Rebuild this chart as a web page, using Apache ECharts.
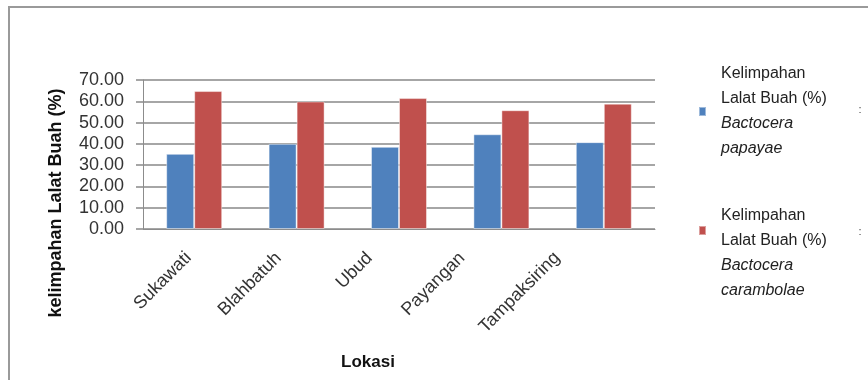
<!DOCTYPE html>
<html>
<head>
<meta charset="utf-8">
<title>Kelimpahan Lalat Buah</title>
<script src="https://cdn.jsdelivr.net/npm/echarts@6/dist/echarts.min.js"></script>
<style>
html,body{margin:0;padding:0;background:#fff;}
#chart{width:868px;height:380px;}
</style>
</head>
<body>
<div id="chart"></div>
<script>
// data
var lokasi = ['Sukawati', 'Blahbatuh', 'Ubud', 'Payangan', 'Tampaksiring'];
var papayae = [35.3, 40.0, 38.6, 44.5, 40.8];
var carambolae = [64.8, 59.9, 61.5, 55.8, 58.9];
var yTicks = [0, 10, 20, 30, 40, 50, 60, 70];

var nama1 = 'Kelimpahan Lalat Buah (%) Bactocera papayae';
var nama2 = 'Kelimpahan Lalat Buah (%) Bactocera carambolae';

var font = 'Liberation Sans';

// excel shifts the rotated labels a bit to the left, more for later categories
var geser = [6, 18, 29, 39, 47];
var labelRich = {};
lokasi.forEach(function (n, i) {
    var d = geser[i];
    labelRich['c' + i] = {
        fontFamily: font,
        fontSize: 18,
        color: '#333',
        padding: [0, Math.round(d * 0.707), Math.round(d * 1.414), 0]
    };
});

// legend text, species name in italic
var legendRich = {
    gap: { fontSize: 1, lineHeight: 45 },
    n: { fontFamily: font, fontSize: 16, color: '#222', lineHeight: 25, padding: [0, 0, 0, 10] },
    i: { fontFamily: font, fontSize: 16, fontStyle: 'italic', color: '#222', lineHeight: 25, padding: [0, 0, 0, 10] }
};
function legendText(name) {
    var s = '{n|Kelimpahan}\n{n|Lalat Buah (%)}\n{i|Bactocera}\n';
    if (name == nama1) return s + '{i|papayae}';
    // in the picture the red marker sits higher than the middle of its text
    return '{gap| }\n' + s + '{i|carambolae}';
}

var myChart = echarts.init(document.getElementById('chart'));

var option = {
    animation: false,
    color: ['#4F81BD', '#C0504D'],
    grid: {
        left: 143,
        right: 213,
        top: 80,
        bottom: 151
    },
    legend: [
        {
            orient: 'vertical',
            left: 693,
            top: 61,
            itemWidth: 7,
            itemHeight: 9,
            icon: 'rect',
            data: [nama1],
            formatter: legendText,
            textStyle: { rich: legendRich }
        },
        {
            orient: 'vertical',
            left: 693,
            top: 175,
            itemWidth: 7,
            itemHeight: 9,
            icon: 'rect',
            data: [nama2],
            formatter: legendText,
            textStyle: { rich: legendRich }
        }
    ],
    xAxis: {
        type: 'category',
        data: lokasi,
        axisLine: { lineStyle: { color: '#8c8c8c', width: 1 } },
        axisTick: { show: false },
        axisLabel: {
            rotate: 45,
            margin: 26,
            interval: 0,
            formatter: function (v, i) {
                return '{c' + i + '|' + v + '}';
            },
            rich: labelRich
        }
    },
    yAxis: {
        type: 'value',
        min: yTicks[0],
        max: yTicks[yTicks.length - 1],
        interval: yTicks[1] - yTicks[0],
        axisLine: { show: true, lineStyle: { color: '#8c8c8c', width: 1 } },
        axisTick: { show: true, length: 7, lineStyle: { color: '#a6a6a6', width: 2 } },
        splitLine: { lineStyle: { color: '#a6a6a6', width: 2 } },
        axisLabel: {
            margin: 19,
            fontFamily: font,
            fontSize: 18,
            color: '#333',
            formatter: function (v) { return v.toFixed(2); }
        }
    },
    series: [
        {
            name: nama1,
            type: 'bar',
            data: papayae,
            barWidth: 28,
            barGap: '0%',
            itemStyle: { borderColor: 'rgba(255,255,255,0.45)', borderWidth: 1 }
        },
        {
            name: nama2,
            type: 'bar',
            data: carambolae,
            barWidth: 28,
            barGap: '0%',
            itemStyle: { borderColor: 'rgba(255,255,255,0.45)', borderWidth: 1 }
        }
    ],
    graphic: [
        // frame of the excel chart area, only top and left edges are visible
        {
            type: 'polyline',
            shape: { points: [[9, 380], [9, 7], [868, 7]] },
            style: { stroke: '#9a9a9a', lineWidth: 2, fill: null }
        },
        {
            type: 'text',
            x: 56,
            y: 203,
            rotation: Math.PI / 2,
            style: {
                text: 'kelimpahan Lalat Buah (%)',
                fontFamily: font,
                fontSize: 18,
                fontWeight: 'bold',
                fill: '#111',
                align: 'center',
                verticalAlign: 'middle'
            }
        },
        {
            type: 'text',
            x: 368,
            y: 362,
            style: {
                text: 'Lokasi',
                fontFamily: font,
                fontSize: 17,
                fontWeight: 'bold',
                fill: '#111',
                align: 'center',
                verticalAlign: 'middle'
            }
        },
        {
            type: 'text',
            x: 860,
            y: 110,
            style: { text: ':', fontFamily: font, fontSize: 11, fill: '#444', align: 'center', verticalAlign: 'middle' }
        },
        {
            type: 'text',
            x: 860,
            y: 232,
            style: { text: ':', fontFamily: font, fontSize: 11, fill: '#444', align: 'center', verticalAlign: 'middle' }
        }
    ]
};

myChart.setOption(option);
</script>
</body>
</html>
